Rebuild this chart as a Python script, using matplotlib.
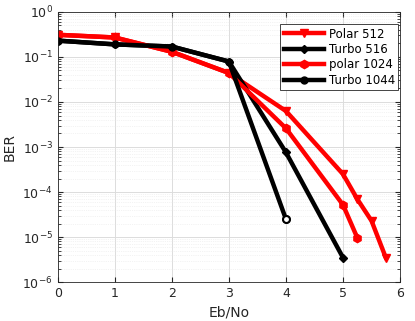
import matplotlib

matplotlib.use("Agg")

import matplotlib.pyplot as plt
import numpy as np

# Eb/No points and BER values
EBNO_POLAR512 = [0, 1, 2, 3, 4, 5, 5.25, 5.5, 5.75]
BER_POLAR512 = [0.31, 0.27, 0.13, 0.044, 6.3e-3, 2.5e-4, 7.0e-5, 2.3e-5, 3.5e-6]

EBNO_TURBO516 = [0, 1, 2, 3, 4, 5]
BER_TURBO516 = [0.23, 0.19, 0.17, 0.079, 7.6e-4, 3.5e-6]

EBNO_POLAR1024 = [0, 1, 2, 3, 4, 5, 5.25]
BER_POLAR1024 = [0.31, 0.27, 0.13, 0.044, 2.6e-3, 5.2e-5, 9.7e-6]

EBNO_TURBO1044 = [0, 1, 2, 3, 4]
BER_TURBO1044 = [0.23, 0.19, 0.17, 0.079, 2.5e-5]

plt.rcParams.update({"font.family": "DejaVu Sans", "font.size": 9})

fig = plt.figure(figsize=(4.15, 3.21), dpi=100)
ax = fig.add_axes([0.139, 0.121, 0.825, 0.842])

lw = 3.2
ax.semilogy(EBNO_POLAR512, BER_POLAR512, color="red", lw=lw, marker="v", ms=6, mfc="red", label="Polar 512")
ax.semilogy(EBNO_TURBO516, BER_TURBO516, color="black", lw=lw, marker="D", ms=4, mfc="black", label="Turbo 516")
ax.semilogy(EBNO_POLAR1024, BER_POLAR1024, color="red", lw=lw, marker="h", ms=6, mfc="red", label="polar 1024")
ax.semilogy(EBNO_TURBO1044, BER_TURBO1044, color="black", lw=lw, marker="o", ms=5, mfc="black", label="Turbo 1044")
# open marker at the end of the steepest curve
ax.semilogy(EBNO_TURBO1044[-1:], BER_TURBO1044[-1:], ls="none", marker="o", ms=5, mfc="white", mec="black", mew=1.5)

ax.set_xlim(0, 6)
ax.set_ylim(1e-6, 1)
ax.set_xticks(np.arange(0, 7))
ax.set_yticks([10.0 ** k for k in range(-6, 1)])
ax.set_xlabel("Eb/No", fontsize=10, color="#262626")
ax.set_ylabel("BER", fontsize=10, color="#262626")
ax.tick_params(which="both", direction="in", top=True, right=True, colors="#262626", labelsize=9)
ax.grid(True, which="major", color="#dcdcdc", lw=0.7)
ax.grid(True, which="minor", color="#e8e8e8", lw=0.5, linestyle=":")
for spine in ax.spines.values():
    spine.set_color("#262626")
    spine.set_linewidth(0.6)

leg = ax.legend(loc="upper right", bbox_to_anchor=(0.995, 0.955), borderaxespad=0,
                fontsize=8.5, fancybox=False, framealpha=1, edgecolor="#262626",
                handlelength=3.4, handletextpad=0.4, borderpad=0.3, labelspacing=0.2)
leg.get_frame().set_linewidth(0.6)

fig.savefig("out.png", dpi=100)
